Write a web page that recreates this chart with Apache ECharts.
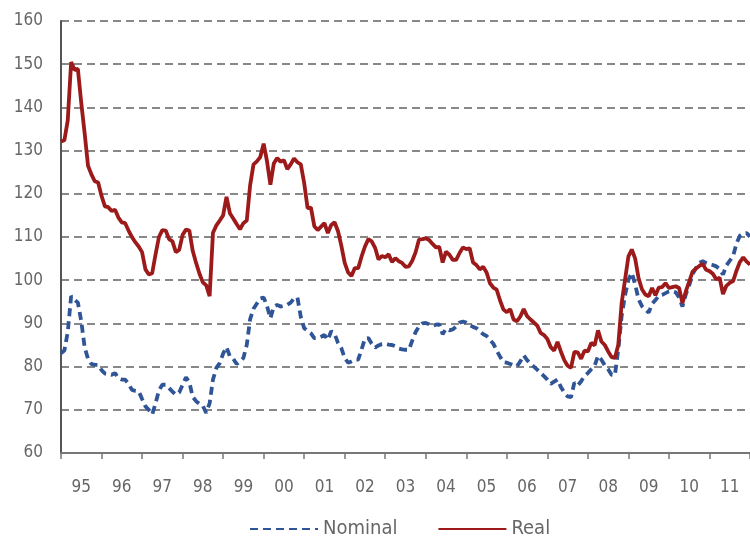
<!doctype html>
<html>
<head>
  <meta charset="utf-8">
  <title>Nominal vs Real</title>
  <script src="https://cdn.jsdelivr.net/npm/echarts@6/dist/echarts.min.js"></script>
  <style>
    html, body { margin: 0; padding: 0; background: #fff; }
    #chart { width: 750px; height: 545px; }
  </style>
</head>
<body>
  <div id="chart"></div>
  <script>
    // monthly, Jan 1995 .. Jan 2012
    const startYear = 1995;
    const nominal = [
      83.1, 83.7, 88.0, 96.3, 95.5, 94.8, 90.5, 84.5, 81.8, 80.6, 80.4, 80.4,
      79.2, 78.4, 78.3, 78.1, 78.5, 77.3, 77.0, 77.0, 76.0, 74.6, 74.4, 74.3,
      72.5, 70.8, 70.0, 68.9, 71.5, 74.5, 75.8, 75.8, 75.0, 74.2, 73.5, 74.0,
      75.8, 77.5, 76.4, 73.0, 72.0, 71.4, 70.9, 69.3, 71.5, 77.0, 79.7, 80.8,
      83.0, 84.5, 82.4, 81.8, 80.6, 81.2, 82.0, 85.0, 91.0, 93.4, 94.6, 95.8,
      96.0, 94.0, 91.2, 93.9, 94.3, 93.9, 94.1, 94.3, 94.8, 95.8, 96.0, 91.5,
      88.9, 88.3, 87.7, 86.6, 86.6, 86.9, 87.3, 86.2, 88.2, 87.6, 85.5, 84.3,
      82.0, 80.9, 81.2, 81.6, 81.6, 84.0, 86.5, 86.6, 85.3, 84.4, 84.9, 85.2,
      85.3, 85.1, 85.0, 84.7, 84.2, 84.0, 83.9, 83.9, 86.0, 88.0, 89.3, 90.0,
      90.1, 89.8, 89.4, 89.7, 89.8, 87.5, 88.8, 88.4, 88.6, 89.3, 90.2, 90.4,
      90.2, 89.6, 89.2, 88.9, 88.2, 87.5, 87.1, 86.2, 85.3, 83.7, 82.3, 81.0,
      80.9, 80.6, 80.3, 80.1, 81.2, 82.6, 81.5, 80.7, 80.0, 79.3, 78.5, 77.8,
      77.0, 76.0, 76.5, 77.0, 75.3, 74.0, 73.1, 72.9, 76.3, 75.6, 76.6, 77.8,
      78.5, 79.4, 80.2, 82.5, 81.6, 80.3, 79.4, 78.1, 78.0, 84.0, 91.7, 96.5,
      100.1, 101.7, 99.0, 95.6, 94.0, 93.2, 92.5, 94.5, 95.4, 96.4, 96.6, 97.0,
      97.4, 97.4, 97.2, 96.0, 93.9, 96.7, 98.8, 101.4, 102.8, 104.0, 104.4, 104.0,
      103.7, 103.5, 103.2, 102.6, 101.3, 103.4, 104.5, 105.6, 108.5, 110.3, 110.8, 110.9,
      110.1
    ];
    const real = [
      132.1, 132.4, 137.0, 150.5, 148.7, 148.9, 141.0, 134.0, 126.5, 124.5, 122.9, 122.6,
      119.5, 117.1, 116.9, 116.0, 116.3, 114.5, 113.4, 113.2, 111.5, 110.0, 108.8, 107.8,
      106.5, 102.5, 101.3, 101.6, 106.0, 110.0, 111.6, 111.5, 109.5, 109.0, 106.5, 107.0,
      110.5, 111.7, 111.5, 106.8, 104.0, 101.5, 99.5, 98.8, 96.3, 111.0, 112.7, 113.8,
      115.0, 119.3, 115.5, 114.3, 113.0, 111.8, 113.2, 113.8, 122.0, 126.8, 127.5, 128.5,
      131.6, 127.5, 122.1, 127.0, 128.3, 127.4, 127.8, 125.7, 126.8, 128.2, 127.3, 126.8,
      122.5, 116.7, 116.8, 112.5, 111.6, 112.4, 113.2, 110.9, 112.8, 113.4, 111.4, 108.0,
      104.0, 101.8, 101.0, 102.8, 102.8, 105.5, 107.8, 109.5, 109.0, 107.5, 104.8, 105.6,
      105.3, 106.0, 104.2, 105.1, 104.4, 104.0, 103.1, 103.2, 104.5, 106.5, 109.4, 109.5,
      109.7, 109.3, 108.4, 107.6, 107.7, 104.1, 106.6, 105.9, 104.7, 104.7, 106.3, 107.6,
      107.2, 107.4, 104.1, 103.5, 102.5, 103.1, 101.8, 99.3, 98.3, 97.8, 95.3, 93.2,
      92.6, 93.3, 90.9, 90.5, 91.6, 93.3, 91.7, 90.9, 90.2, 89.5, 87.8, 87.3,
      86.4, 84.5, 83.7, 85.7, 83.5, 81.5, 80.2, 79.7, 83.4, 83.3, 81.8, 83.7,
      83.5, 85.5, 84.9, 88.4, 85.8, 85.0, 83.5, 82.2, 82.0, 85.0, 94.7, 100.1,
      105.5, 107.1, 105.0, 100.5, 97.9, 96.7, 96.3, 98.2, 96.5, 98.3, 98.4, 99.3,
      98.2, 98.4, 98.6, 98.2, 94.7, 97.4, 99.7, 102.0, 102.7, 103.3, 103.8, 102.4,
      102.1, 101.5, 100.2, 100.6, 96.8, 98.7, 99.4, 99.8, 102.2, 104.2, 105.3, 104.3,
      103.6
    ];

    const months = nominal.map((v, i) => {
      const y = startYear + Math.floor(i / 12);
      const m = (i % 12) + 1;
      return y + '-' + (m < 10 ? '0' + m : m);
    });

    const font = '"DejaVu Sans Condensed", "Liberation Sans Narrow", "Noto Sans", sans-serif';
    const chart = echarts.init(document.getElementById('chart'));
    chart.setOption({
      animation: false,
      textStyle: { fontFamily: font },
      grid: { left: 61, right: 0, top: 21, bottom: 92 },
      legend: {
        bottom: 1,
        left: 244,
        itemWidth: 68,
        itemHeight: 4,
        itemGap: 40,
        itemStyle: { opacity: 0 },
        textStyle: { fontSize: 20, color: '#666', fontFamily: font },
        data: ['Nominal', 'Real']
      },
      xAxis: {
        type: 'category',
        data: months,
        boundaryGap: false,
        axisLine: { lineStyle: { color: '#777', width: 2 } },
        axisTick: {
          length: 6,
          lineStyle: { color: '#777', width: 1.5 },
          interval: (i) => i % 12 === 0
        },
        axisLabel: {
          interval: (i) => i % 12 === 6,
          formatter: (v) => v.slice(2, 4),
          margin: 26,
          fontSize: 17,
          color: '#666'
        },
        splitLine: { show: false }
      },
      yAxis: {
        type: 'value',
        min: 60,
        max: 160,
        interval: 10,
        axisLine: { show: true, lineStyle: { color: '#555', width: 2 } },
        axisTick: { show: false },
        axisLabel: { fontSize: 17, color: '#666', margin: 18 },
        splitLine: {
          lineStyle: { color: '#888', width: 2, type: [8, 5] }
        }
      },
      series: [
        {
          name: 'Nominal',
          type: 'line',
          data: nominal,
          symbol: 'none',
          z: 2,
          lineStyle: { color: '#2f5597', width: 3.8, type: [8, 5] },
          itemStyle: { color: '#2f5597' }
        },
        {
          name: 'Real',
          type: 'line',
          data: real,
          symbol: 'none',
          z: 3,
          lineStyle: { color: '#9c1a1a', width: 3.8 },
          itemStyle: { color: '#9c1a1a' }
        }
      ]
    });
  </script>
</body>
</html>
